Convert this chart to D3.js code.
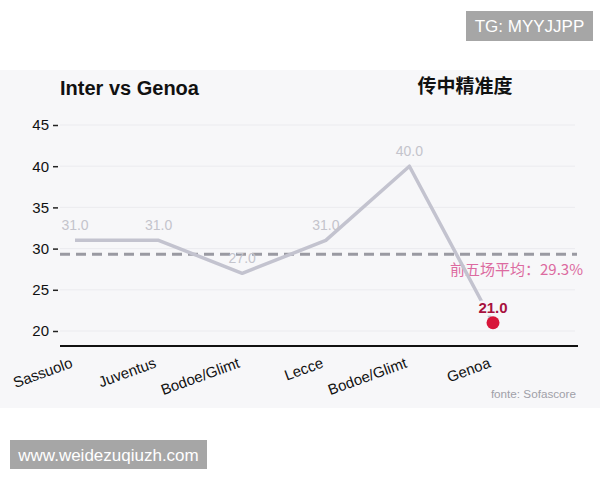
<!DOCTYPE html>
<html>
<head>
<meta charset="utf-8">
<script src="https://cdn.jsdelivr.net/npm/d3@7"></script>
<style>
  body { margin: 0; background: #fff; }
  svg { display: block; font-family: "Liberation Sans", Arial, "Noto Sans CJK SC", sans-serif; }
</style>
</head>
<body>
<div id="chart"></div>
<script>
// 数据
const opponents = ["Sassuolo", "Juventus", "Bodoe/Glimt", "Lecce", "Bodoe/Glimt", "Genoa"];
const accuracy = [31.0, 31.0, 27.0, 31.0, 40.0, 21.0];
const yTicks = [20, 25, 30, 35, 40, 45];
const avgValue = 29.3;

const W = 600, H = 480;
const svg = d3.select("#chart").append("svg")
  .attr("width", W)
  .attr("height", H);

// 面板背景
svg.append("rect")
  .attr("x", 0).attr("y", 70)
  .attr("width", W).attr("height", 338)
  .attr("fill", "#f7f7f9");

// 比例尺
const x = d3.scalePoint()
  .domain(opponents.map((d, i) => i))
  .range([75, 493]);
const y = d3.scaleLinear()
  .domain([20, 45])
  .range([331, 125]);

const left = 60, right = 577, baseY = 346;

// 网格线
svg.append("g")
  .selectAll("line")
  .data(yTicks)
  .join("line")
  .attr("x1", left).attr("x2", right - 2)
  .attr("y1", d => y(d)).attr("y2", d => y(d))
  .attr("stroke", "#ebebef")
  .attr("stroke-width", 1);

// Y 轴
const yAxis = svg.append("g")
  .attr("transform", `translate(${left - 2},0)`)
  .call(d3.axisLeft(y).tickValues(yTicks).tickSize(5).tickPadding(4));
yAxis.select(".domain").remove();
yAxis.selectAll(".tick line").attr("stroke", "#222").attr("stroke-width", 1.5);
yAxis.selectAll(".tick text")
  .attr("font-size", 15)
  .attr("fill", "#111");

// X 轴
const xAxis = svg.append("g")
  .attr("transform", `translate(0,${baseY})`)
  .call(d3.axisBottom(x).tickSize(0).tickFormat(i => opponents[i]));
xAxis.select(".domain").remove();
svg.append("line")
  .attr("x1", left).attr("x2", right + 1)
  .attr("y1", baseY).attr("y2", baseY)
  .attr("stroke", "#111").attr("stroke-width", 2);
xAxis.selectAll(".tick text")
  .attr("font-size", 15)
  .attr("fill", "#111")
  .attr("text-anchor", "end")
  .attr("dy", 0)
  .attr("y", 0)
  .attr("transform", "translate(-2,21) rotate(-20)");

// 平均线
svg.append("line")
  .attr("x1", left).attr("x2", right)
  .attr("y1", y(avgValue)).attr("y2", y(avgValue))
  .attr("stroke", "#9a9aa2")
  .attr("stroke-width", 3)
  .attr("stroke-dasharray", "10,6");

svg.append("text")
  .attr("x", 583).attr("y", y(avgValue) + 21)
  .attr("text-anchor", "end")
  .attr("font-size", 15)
  .attr("fill", "#dc6aa0")
  .attr("font-family", "'Noto Sans CJK SC', sans-serif")
  .text(`前五场平均：${avgValue}%`);

// 折线
const line = d3.line()
  .x((d, i) => x(i))
  .y(d => y(d));
svg.append("path")
  .datum(accuracy)
  .attr("d", line)
  .attr("fill", "none")
  .attr("stroke", "#c3c3cf")
  .attr("stroke-width", 3.5)
  .attr("stroke-linejoin", "round");

// 数据标签（前五场）
const last = accuracy.length - 1;
svg.append("g")
  .selectAll("text")
  .data(accuracy.slice(0, last))
  .join("text")
  .attr("x", (d, i) => x(i))
  .attr("y", d => y(d) - 10)
  .attr("text-anchor", "middle")
  .attr("font-size", 14)
  .attr("fill", "#c4c4cc")
  .text(d => d.toFixed(1));

// 最后一场：红点 + 标签
svg.append("circle")
  .attr("cx", x(last)).attr("cy", y(accuracy[last]))
  .attr("r", 6.5)
  .attr("fill", "#d8163a");
svg.append("text")
  .attr("x", x(last)).attr("y", y(accuracy[last]) - 10)
  .attr("text-anchor", "middle")
  .attr("font-size", 15)
  .attr("font-weight", "bold")
  .attr("fill", "#a8123e")
  .attr("stroke", "#f7f7f9")
  .attr("stroke-width", 5)
  .attr("paint-order", "stroke")
  .text(accuracy[last].toFixed(1));

// 标题
svg.append("text")
  .attr("x", 60).attr("y", 95)
  .attr("font-size", 20)
  .attr("font-weight", "bold")
  .attr("fill", "#111")
  .text("Inter vs Genoa");
svg.append("text")
  .attr("x", 465).attr("y", 93)
  .attr("text-anchor", "middle")
  .attr("font-size", 19)
  .attr("font-weight", "bold")
  .attr("fill", "#111")
  .attr("font-family", "'Noto Sans CJK SC', sans-serif")
  .text("传中精准度");

// 来源
svg.append("text")
  .attr("x", 576).attr("y", 398)
  .attr("text-anchor", "end")
  .attr("font-size", 11.7)
  .attr("fill", "#a0a0a8")
  .text("fonte: Sofascore");

// 水印框
function tag(x0, y0, w, h, label) {
  svg.append("rect")
    .attr("x", x0).attr("y", y0)
    .attr("width", w).attr("height", h)
    .attr("fill", "#a6a6a6");
  svg.append("text")
    .attr("x", x0 + w / 2).attr("y", y0 + h / 2 + 6)
    .attr("text-anchor", "middle")
    .attr("font-size", 17)
    .attr("fill", "#fff")
    .text(label);
}
tag(466, 11, 127, 30, "TG: MYYJJPP");
tag(10, 440, 197, 29, "www.weidezuqiuzh.com");
</script>
</body>
</html>
